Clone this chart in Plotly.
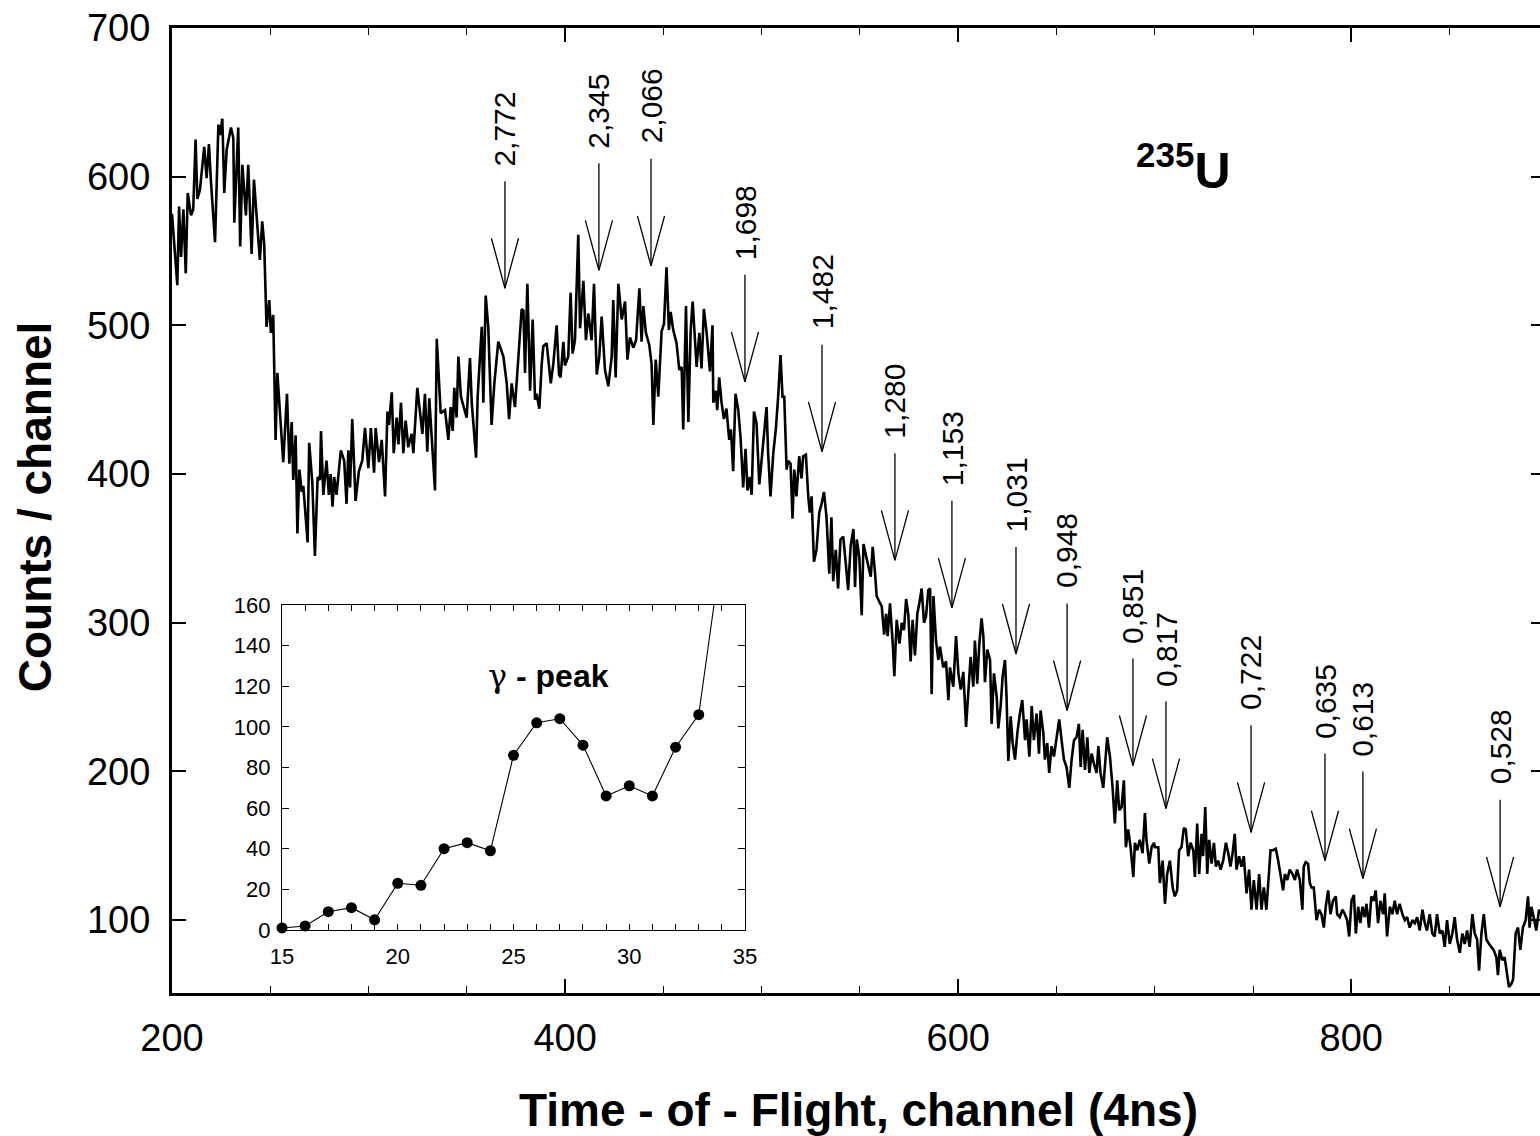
import plotly.graph_objects as go

# ---------------- data ----------------
channels = [
    200.0, 202.7, 203.6, 204.6, 205.8, 207.0, 208.0, 209.7, 210.8, 212.0, 212.9, 214.2, 216.4, 217.6, 218.8, 219.8,
    221.9, 223.6, 224.4, 225.6, 226.6, 227.8, 230.0, 231.2, 231.7, 233.7, 234.7, 235.8, 237.6, 238.8, 240.5, 241.7,
    244.7, 245.9, 246.9, 248.1, 249.5, 250.3, 251.5, 252.7, 253.6, 254.9, 256.6, 258.5, 259.7, 260.9, 261.7, 262.9,
    263.8, 264.8, 266.0, 266.8, 269.0, 269.8, 271.4, 272.7, 274.1, 275.3, 275.8, 277.0, 278.6, 279.8, 280.7, 281.7,
    282.5, 283.7, 285.9, 287.6, 288.8, 289.7, 290.6, 291.7, 293.4, 295.1, 296.8, 298.2, 299.9, 301.2, 302.8, 303.6,
    305.3, 306.7, 308.4, 309.6, 310.4, 311.8, 312.8, 314.3, 315.2, 316.5, 317.7, 318.9, 320.2, 321.9, 322.8, 324.8,
    326.2, 327.4, 328.7, 329.9, 330.9, 332.1, 333.8, 334.7, 336.7, 338.9, 340.6, 341.8, 342.8, 343.6, 344.8, 345.7,
    347.0, 349.9, 351.6, 352.5, 354.7, 355.5, 357.6, 358.4, 359.6, 360.9, 362.6, 364.0, 366.0, 368.6, 370.3, 371.5,
    372.8,
    374.5, 376.2, 377.9, 378.8, 379.6, 380.8, 382.2, 383.5, 384.7, 385.5, 386.9, 388.1, 388.9, 390.6, 392.7, 394.0,
    395.7, 396.9, 397.7, 399.1, 399.9, 401.6, 402.8, 403.8, 405.0, 406.7, 407.6, 409.3, 410.6, 411.8, 413.5, 414.7,
    416.1, 417.4, 418.6, 420.3, 422.0, 423.7, 424.5, 425.7, 427.1, 428.8, 430.5, 431.7, 433.0, 434.7, 436.1, 437.8,
    438.9, 439.8, 441.1, 442.8, 444.0, 444.9, 446.1, 447.4, 449.1, 450.3, 451.6, 452.8, 453.7, 455.0, 456.7, 458.1,
    459.3, 460.1, 461.5, 462.7, 463.9, 464.9, 466.1, 466.9, 468.3, 469.4, 470.6, 472.0, 473.7, 475.0, 475.4, 476.7,
    477.4, 478.4, 479.6, 480.8, 482.1, 483.5, 484.4, 485.5, 486.7, 488.1, 489.3, 490.6, 491.8, 492.8, 494.0, 494.9,
    496.1, 497.4, 498.8, 499.9, 501.1, 502.5, 503.3, 504.5, 505.9, 507.2, 508.4, 509.6, 510.6, 511.5, 512.7, 513.5,
    514.7, 515.7, 516.6, 517.7, 519.1, 520.3, 521.1, 522.5, 523.7, 524.5, 525.4, 526.6, 527.9, 529.3, 530.5, 531.7,
    533.0, 534.4, 535.5, 536.4, 537.7, 538.9, 540.1, 541.5, 542.8, 544.0,
    545.3, 546.7, 547.5, 548.4, 549.7, 550.9, 551.8, 553.1, 554.3, 555.5, 556.5, 557.7, 558.5, 559.9, 561.1, 562.3,
    563.3, 564.1, 565.3, 566.7, 567.5, 568.7, 570.1, 571.3, 572.4, 573.5, 574.6, 575.8, 576.8, 578.0, 579.2, 580.2,
    581.4, 582.6, 583.6, 584.8, 585.7, 586.5, 587.4, 588.7, 589.9, 590.7, 592.4, 593.8, 595.0, 595.8, 597.5, 598.9,
    600.1, 601.3, 602.6, 604.0, 605.2, 606.3, 607.7, 608.5, 609.7, 610.7, 611.9, 612.8, 613.6, 614.8, 616.2, 617.0,
    618.2, 619.6, 620.4, 621.6, 622.6, 623.8, 624.6, 625.5, 626.7, 627.7, 628.9, 630.1, 631.4, 632.6, 634.0, 634.8,
    636.2, 637.4, 638.5, 639.9, 641.1, 641.9, 643.3, 644.1, 645.3, 646.3, 647.5, 648.7, 650.1, 651.4, 652.6, 653.8,
    655.1, 656.5, 657.7, 658.9, 660.2, 661.4, 662.3, 663.3, 664.5, 665.7, 666.7, 667.9, 669.1, 670.4, 671.3, 672.4,
    673.8, 674.6, 675.8, 677.2, 678.5, 679.7, 680.9, 681.9, 683.1, 684.3, 685.3, 686.5, 687.7, 689.1, 689.9, 691.1,
    692.4, 693.8, 695.0, 695.8, 697.2, 698.4, 699.6,
    700.1, 701.8, 702.6, 704.0, 705.2, 706.3, 707.7, 709.1, 710.2, 711.4, 712.4, 713.6, 714.8, 715.8, 717.0, 718.2,
    719.6, 720.4, 721.6, 722.6, 723.8, 724.6, 725.7, 726.7, 727.7, 728.9, 730.1, 731.1, 732.3, 733.5, 734.8, 736.2,
    737.4, 738.5, 739.6, 740.7, 741.6, 742.9, 744.1, 745.3, 746.7, 748.0, 749.2, 750.4, 751.8, 753.1, 754.3, 755.5,
    756.8, 758.2, 758.9, 760.2, 761.6, 762.8, 764.0, 765.3, 766.2, 767.4, 768.7, 770.1, 771.3, 772.4, 773.8, 775.1,
    775.8, 776.8, 778.0, 778.9, 779.7, 780.9, 782.3, 783.6, 784.8, 786.0, 787.0, 788.2, 789.4, 790.7, 792.1, 792.8,
    794.1, 795.5, 796.7, 797.9, 798.9, 800.1, 801.3, 802.3, 803.5, 804.6, 805.7, 806.8, 807.7, 809.0, 810.2, 811.4,
    812.4, 813.6, 814.8, 816.2, 817.0, 818.2, 819.6, 820.9, 822.1, 823.3, 824.6, 826.0, 827.2, 828.4, 829.7, 831.1,
    832.3, 833.5, 834.8, 836.2, 837.4, 838.5, 839.9, 841.2, 842.4, 843.6, 845.0, 846.3, 847.5, 848.7, 850.1, 851.4,
    852.6, 853.8, 855.2, 856.5, 857.7, 858.9, 860.2, 861.6, 862.8, 864.0, 865.0, 866.2, 867.4, 868.7, 870.1, 871.3,
    872.4, 873.8, 874.6, 875.5, 876.8, 878.0, 879.2, 880.2, 881.4, 882.3, 883.6, 884.8, 886.0, 887.3, 888.7, 889.9,
    890.7, 891.6, 892.8, 894.1, 895.5, 896.2,
]

counts = [
    575, 527, 580, 546, 578, 535, 589, 574, 578, 625, 585, 591, 620, 599, 622, 597,
    556, 635, 628, 639, 589, 618, 633, 626, 569, 633, 553, 608, 574, 608, 548, 598,
    544, 570, 555, 499, 517, 495, 507, 423, 468, 441, 408, 454, 407, 435, 396, 426,
    360, 403, 388, 392, 354, 421, 394, 345, 398, 396, 429, 386, 409, 386, 400, 378,
    398, 386, 416, 409, 380, 416, 391, 437, 382, 402, 409, 431, 404, 431, 401, 431,
    408, 423, 385, 442, 433, 455, 414, 438, 420, 448, 414, 436, 418, 427, 414, 458,
    440, 427, 454, 415, 451, 427, 389, 491, 441, 443, 423, 445, 429, 458, 438, 479,
    452, 438, 478, 448, 411, 452, 499, 448, 520, 499, 433, 461, 489, 479, 461, 437,
    461,
    445, 479, 511, 510, 468, 528, 456, 504, 450, 454, 444, 474, 486, 488, 461, 474,
    500, 467, 465, 489, 473, 479, 522, 481, 490, 561, 498, 530, 490, 508, 490, 528,
    467, 479, 506, 470, 459, 479, 517, 465, 528, 504, 516, 477, 492, 485, 490, 525,
    489, 513, 495, 487, 474, 433, 477, 452, 496, 501, 539, 497, 509, 497, 488, 470,
    472, 430, 513, 435, 497, 516, 490, 472, 495, 471, 511, 495, 469, 500, 448, 456,
    443, 465, 448, 437, 444, 423, 430, 402, 454, 443, 424, 391, 417, 389, 398, 386,
    442, 434, 393, 409, 430, 445, 414, 385, 414, 430, 452, 480, 452, 452, 403, 409,
    407, 370, 403, 385, 412, 397, 412, 413, 385, 374, 385, 341, 349, 374, 380, 388,
    371, 333, 371, 328, 349, 323, 356, 358, 340, 322,
    352, 363, 324, 356, 344, 305, 353, 344, 338, 331, 351, 333, 318, 314, 311, 292,
    306, 291, 313, 286, 264, 302, 286, 300, 295, 316, 306, 274, 302, 278, 306, 313,
    323, 300, 304, 322, 323, 252, 318, 288, 275, 284, 270, 274, 248, 270, 257, 291,
    266, 255, 267, 230, 252, 277, 257, 288, 259, 285, 303, 291, 260, 282, 275, 232,
    266, 250, 229, 244, 264, 275, 250, 207, 237, 219, 208, 226, 239, 248, 221, 235,
    210, 244, 221, 239, 212, 241, 226, 208, 219, 199, 217, 210, 223, 235, 221, 208,
    203, 189, 208, 221, 223, 232, 203, 228, 201, 223, 199, 212, 205, 199, 217, 199,
    189, 205, 223, 210, 190, 165, 194, 174, 176, 194, 149, 161, 149, 129, 152, 147,
    154, 145, 172, 154, 138, 149, 152,
    149, 149, 125, 140, 111, 131, 140, 122, 116, 120, 147, 149, 162, 161, 143, 152,
    147, 129, 165, 131, 158, 143, 176, 131, 154, 138, 152, 136, 140, 134, 140, 152,
    145, 136, 145, 158, 134, 143, 136, 143, 118, 134, 107, 127, 107, 131, 107, 122,
    107, 131, 147, 147, 148, 140, 129, 120, 131, 127, 134, 131, 127, 134, 127, 107,
    136, 139, 138, 125, 122, 122, 100, 107, 104, 95, 109, 120, 104, 113, 116, 104,
    102, 107, 104, 100, 89, 113, 117, 91, 109, 98, 109, 102, 111, 95, 116, 113,
    120, 98, 113, 104, 118, 89, 109, 104, 113, 104, 111, 104, 100, 102, 95, 100,
    98, 102, 93, 107, 98, 93, 104, 91, 89, 104, 91, 93, 82, 100, 84, 91,
    102, 87, 78, 91, 84, 93, 82, 104, 91, 87, 66, 91, 104, 87, 84, 82,
    80, 75, 63, 80, 73, 75, 63, 55, 57, 60, 91, 95, 80, 95, 100, 116,
    95, 109, 102, 93, 107, 104,
]

# gamma-peak inset
gamma_channels = [15, 16, 17, 18, 19, 20, 21, 22, 23, 24, 25, 26, 27, 28, 29, 30, 31, 32, 33, 34]
gamma_counts = [1, 2, 9, 11, 5, 23, 22, 40, 43, 39, 86, 102, 104, 91, 66, 71, 66, 90, 106, 188]
gamma_marker_n = 19  # points drawn with markers (the last one is off-scale)

# resonance arrows: energy labels, channel, count at the arrow tip
arrow_labels = ["2,772", "2,345", "2,066", "1,698", "1,482", "1,280", "1,153", "1,031",
                "0,948", "0,851", "0,817", "0,722", "0,635", "0,613", "0,528"]
arrow_channels = [369.4, 417.2, 443.7, 491.5, 530.7, 567.8, 596.8, 629.4,
                  655.4, 688.9, 705.7, 749.0, 786.6, 805.9, 875.7]
arrow_tip_counts = [525, 537, 540, 462, 415, 342, 310, 279,
                    241, 204, 175, 159, 140, 128, 109]

# ticks
x_tick_vals = [200, 400, 600, 800]
y_tick_vals = [100, 200, 300, 400, 500, 600, 700]
inset_x_ticks = [15, 16, 17, 18, 19, 20, 21, 22, 23, 24, 25, 26, 27, 28, 29, 30, 31, 32, 33, 34, 35]
inset_x_text = ["15", "", "", "", "", "20", "", "", "", "", "25", "", "", "", "", "30", "", "", "", "", "35"]
inset_y_ticks = [0, 20, 40, 60, 80, 100, 120, 140, 160]

# ---------------- styling constants ----------------
FONT = "Liberation Sans, Arial, Helvetica, sans-serif"
SHAFT = 72.0   # arrow length (counts)
HEAD_L = 33.6  # arrow head length (counts)
HEAD_W = 6.9   # arrow head half width (channels)

fig = go.Figure()

# main spectrum
fig.add_trace(go.Scatter(x=channels, y=counts, mode="lines",
                         line=dict(color="black", width=2.6),
                         showlegend=False, hoverinfo="skip"))

# arrows
ax, ay = [], []
for ch, tip in zip(arrow_channels, arrow_tip_counts):
    ax += [ch, ch, None, ch - HEAD_W, ch, ch + HEAD_W, None]
    ay += [tip + SHAFT, tip, None, tip + HEAD_L, tip, tip + HEAD_L, None]
fig.add_trace(go.Scatter(x=ax, y=ay, mode="lines",
                         line=dict(color="black", width=1.3),
                         showlegend=False, hoverinfo="skip"))

# dummy for right-side ticks
fig.add_trace(go.Scatter(x=[None], y=[None], yaxis="y2", showlegend=False, hoverinfo="skip"))

# inset
fig.add_trace(go.Scatter(x=gamma_channels, y=gamma_counts, mode="lines",
                         line=dict(color="black", width=1.1),
                         xaxis="x3", yaxis="y3", showlegend=False, hoverinfo="skip"))
fig.add_trace(go.Scatter(x=gamma_channels[:gamma_marker_n], y=gamma_counts[:gamma_marker_n],
                         mode="markers", marker=dict(color="black", size=11),
                         cliponaxis=False,
                         xaxis="x3", yaxis="y3", showlegend=False, hoverinfo="skip"))

annotations = []
for lab, ch, tip in zip(arrow_labels, arrow_channels, arrow_tip_counts):
    annotations.append(dict(x=ch, y=tip + SHAFT, xref="x", yref="y", text=lab,
                            textangle=-90, showarrow=False, xanchor="center",
                            yanchor="bottom", yshift=13,
                            font=dict(family=FONT, size=30, color="black")))

annotations += [
    dict(x=0.5015, y=-0.121, xref="paper", yref="paper",
         text="<b>Time - of - Flight, channel (4ns)</b>", showarrow=False,
         xanchor="center", yanchor="middle",
         font=dict(family=FONT, size=46, color="black")),
    dict(x=-0.100, y=0.5036, xref="paper", yref="paper",
         text="<b>Counts / channel</b>", showarrow=False, textangle=-90,
         xanchor="center", yanchor="middle",
         font=dict(family=FONT, size=46, color="black")),
    dict(x=0.7395, y=0.856, xref="paper", yref="paper",
         text="<b><sup>235</sup>U</b>", showarrow=False,
         xanchor="center", yanchor="middle",
         font=dict(family=FONT, size=50, color="black")),
    dict(x=0.2749, y=0.3285, xref="paper", yref="paper",
         text="<span style='font-family:DejaVu Serif;font-weight:normal'>γ</span><b> - peak</b>",
         showarrow=False,
         xanchor="center", yanchor="middle",
         font=dict(family=FONT, size=32, color="black")),
]

fig.update_layout(
    width=1540, height=1136,
    margin=dict(l=172, r=0, t=28, b=143, pad=0, autoexpand=False),
    paper_bgcolor="white", plot_bgcolor="white",
    font=dict(family=FONT, color="black"),
    showlegend=False,
    annotations=annotations,
    xaxis=dict(range=[200, 896], showline=True, linewidth=3, linecolor="black",
               mirror="ticks", ticks="inside", ticklen=14, tickwidth=1.5, tickcolor="black",
               tickvals=x_tick_vals, tickfont=dict(size=38, family=FONT),
               ticklabelstandoff=9, automargin=False,
               minor=dict(dtick=50, tick0=200, ticks="inside", ticklen=7, tickwidth=1.2, tickcolor="black"),
               showgrid=False, zeroline=False),
    yaxis=dict(range=[51, 700], showline=True, linewidth=3, linecolor="black",
               ticks="inside", ticklen=14, tickwidth=1.5, tickcolor="black",
               tickvals=y_tick_vals, tickfont=dict(size=38, family=FONT),
               ticklabelstandoff=11, automargin=False,
               showgrid=False, zeroline=False),
    yaxis2=dict(range=[51, 700], overlaying="y", side="right", showline=False,
                ticks="inside", ticklen=9, tickwidth=1.5, tickcolor="black",
                tickvals=y_tick_vals, showticklabels=False, showgrid=False, zeroline=False,
                automargin=False),
    xaxis3=dict(domain=[0.0804, 0.4189], anchor="y3", range=[15, 35],
                showline=True, linewidth=1.3, linecolor="black", mirror="ticks",
                ticks="inside", ticklen=6, tickwidth=1, tickcolor="black",
                tickvals=inset_x_ticks, ticktext=inset_x_text,
                tickfont=dict(size=22, family=FONT), ticklabelstandoff=6,
                showgrid=False, zeroline=False),
    yaxis3=dict(domain=[0.0653, 0.4021], anchor="x3", range=[0, 160],
                showline=True, linewidth=1.3, linecolor="black", mirror="ticks",
                ticks="inside", ticklen=7, tickwidth=1, tickcolor="black",
                tickvals=inset_y_ticks,
                tickfont=dict(size=22, family=FONT), ticklabelstandoff=6,
                showgrid=False, zeroline=False),
)

fig.write_html(
    "out.html",
    config={"responsive": False, "displayModeBar": False},
    post_script=("document.documentElement.style.overflow='hidden';"
                 "document.body.style.overflow='hidden';"
                 "document.body.style.margin='0';"),
)
